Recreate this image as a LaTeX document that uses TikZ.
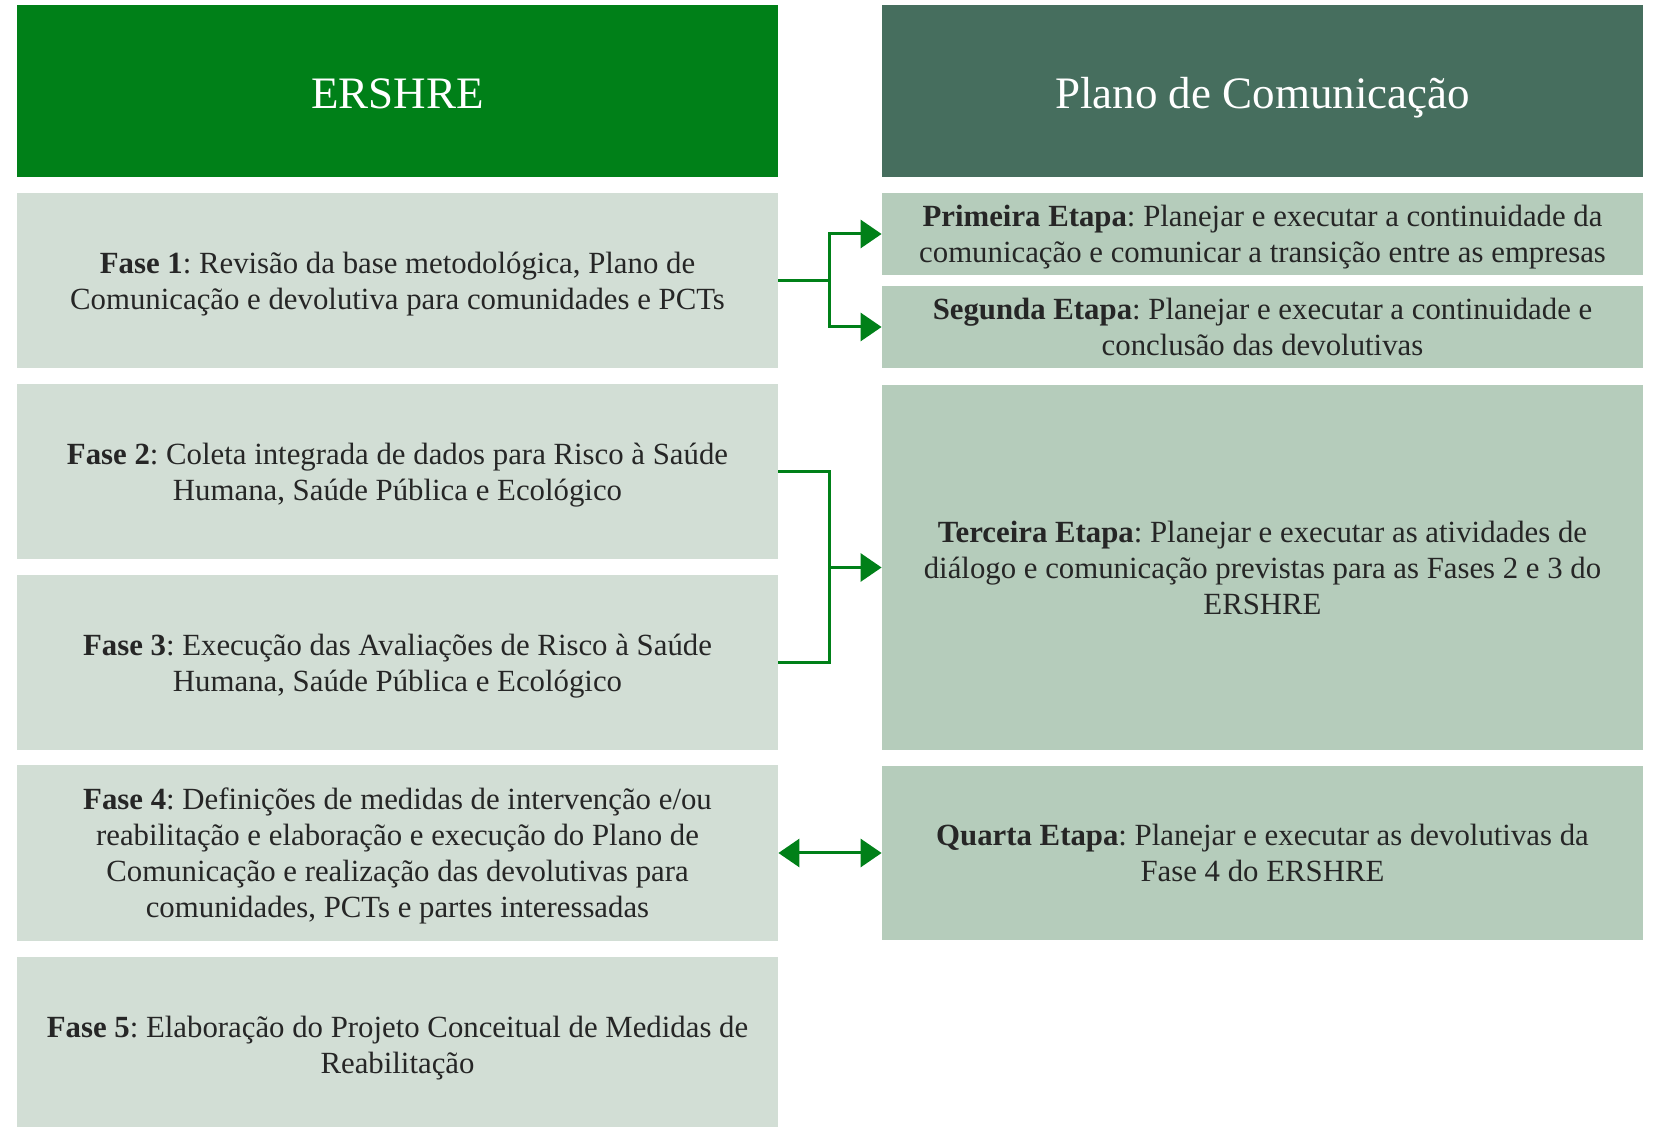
\documentclass[tikz,border=0pt]{standalone}
\usepackage{fontspec}
\setmainfont{Liberation Serif}
\usepackage{tikz}
\usetikzlibrary{arrows.meta,positioning}
\usepackage{xcolor}
\definecolor{ershregreen}{RGB}{0,128,24}
\definecolor{planogreen}{RGB}{70,110,94}
\definecolor{fasefill}{RGB}{210,222,213}
\definecolor{etapafill}{RGB}{181,204,187}
\definecolor{textgray}{RGB}{38,38,38}
\frenchspacing
\tikzstyle{header} = [rectangle, inner sep=0pt, minimum width=380.5pt, minimum height=86pt, text centered, text height=18pt, text depth=0pt, text=white, font=\fontsize{22.5}{26}\selectfont]
\tikzstyle{fase} = [rectangle, inner sep=0pt, minimum width=380.5pt, minimum height=87.5pt, align=center, text depth=0pt, fill=fasefill, text=textgray, font=\fontsize{15.4}{18}\selectfont]
\tikzstyle{etapa} = [rectangle, inner sep=0pt, minimum width=380.5pt, align=center, text depth=0pt, fill=etapafill, text=textgray, font=\fontsize{15.4}{18}\selectfont]
\tikzstyle{link} = [line width=1.5pt, color=ershregreen]
\tikzstyle{arrow} = [link, -{Triangle[length=10.5pt,width=14pt]}]
\tikzstyle{dblarrow} = [link, {Triangle[length=10.5pt,width=14pt]}-{Triangle[length=10.5pt,width=14pt]}]

\begin{document}
\begin{tikzpicture}[x=0.5pt, y=-0.5pt]
    \useasboundingbox (0,0) rectangle (1655,1127);

    % Headers
    \node[header, fill=ershregreen] (ershre) at (397.5, 91) {ERSHRE};
    \node[header, fill=planogreen] (plano) at (1262.5, 91) {Plano de Comunicação};

    % ERSHRE phases
    \node[fase] (fase1) at (397.5, 280.5) {\textbf{Fase 1}: Revisão da base metodológica, Plano de\\ Comunicação e devolutiva para comunidades e PCTs};
    \node[fase] (fase2) at (397.5, 472) {\textbf{Fase 2}: Coleta integrada de dados para Risco à Saúde\\ Humana, Saúde Pública e Ecológico};
    \node[fase] (fase3) at (397.5, 662.5) {\textbf{Fase 3}: Execução das Avaliações de Risco à Saúde\\ Humana, Saúde Pública e Ecológico};
    \node[fase] (fase4) at (397.5, 853) {\textbf{Fase 4}: Definições de medidas de intervenção e/ou\\ reabilitação e elaboração e execução do Plano de\\ Comunicação e realização das devolutivas para\\ comunidades, PCTs e partes interessadas};
    \node[fase] (fase5) at (397.5, 1044.5) {\textbf{Fase 5}: Elaboração do Projeto Conceitual de Medidas de\\ Reabilitação};

    % Communication steps
    \node[etapa, minimum height=41pt] (etapa1) at (1262.5, 234) {\textbf{Primeira Etapa}: Planejar e executar a continuidade da\\ comunicação e comunicar a transição entre as empresas};
    \node[etapa, minimum height=41pt] (etapa2) at (1262.5, 327) {\textbf{Segunda Etapa}: Planejar e executar a continuidade e\\ conclusão das devolutivas};
    \node[etapa, minimum height=182.5pt] (etapa3) at (1262.5, 567.5) {\textbf{Terceira Etapa}: Planejar e executar as atividades de\\ diálogo e comunicação previstas para as Fases 2 e 3 do\\ ERSHRE};
    \node[etapa, minimum height=87pt] (etapa4) at (1262.5, 853) {\textbf{Quarta Etapa}: Planejar e executar as devolutivas da\\ Fase 4 do ERSHRE};

    % Arrows
    \coordinate (b1) at (829.5, 280.5);
    \coordinate (b2) at (829.5, 567.5);
    \draw[link] (fase1.east) -- (b1);
    \draw[arrow] (b1) |- (etapa1.west);
    \draw[arrow] (b1) |- (etapa2.west);
    \draw[link] (fase2.east) -| (b2) |- (fase3.east);
    \draw[arrow] (b2) -- (etapa3.west);
    \draw[dblarrow] (fase4.east) -- (etapa4.west);
\end{tikzpicture}
\end{document}
